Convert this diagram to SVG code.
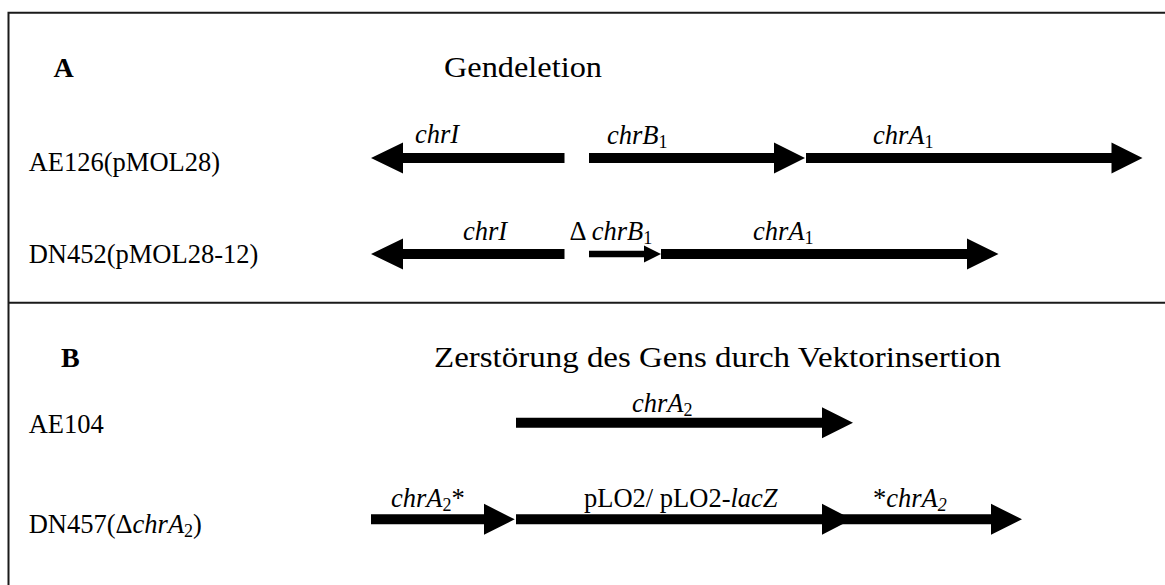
<svg xmlns="http://www.w3.org/2000/svg" width="1165" height="585" viewBox="0 0 1165 585">
<style>
.t{font-family:"Liberation Serif","Times New Roman",serif;font-size:26.5px;fill:#000}
.i{font-style:italic}
.b{font-weight:bold;font-size:28px}
.h{font-size:30px}
.s{font-size:18px}
.ar{fill:#000;stroke:none}
.fr{stroke:#1a1a1a;stroke-width:2;fill:none}
</style>
<rect width="1165" height="585" fill="#fff"/>
<g id="frame">
<path class="fr" d="M8.5 585 V12.7 H1165 M8.5 302.7 H1165"/>
</g>
<g id="panelA">
<text class="t b" x="53.6" y="77">A</text>
<text class="t h" x="444" y="77" textLength="158" lengthAdjust="spacingAndGlyphs">Gendeletion</text>
<text class="t" x="28.7" y="170.7">AE126(pMOL28)</text>
<text class="t" x="28.7" y="263.3">DN452(pMOL28-12)</text>
</g>
<g id="panelB">
<text class="t b" x="61" y="367.3">B</text>
<text class="t h" x="434" y="367.3" textLength="567" lengthAdjust="spacingAndGlyphs">Zerstörung des Gens durch Vektorinsertion</text>
<text class="t" x="28.7" y="432.7">AE104</text>
<text class="t" x="28.7" y="533.3">DN457(Δ<tspan class="i">chrA</tspan><tspan class="s" dy="4">2</tspan><tspan dy="-4">)</tspan></text>
</g>
<g id="connectors">
<path id="a-chrI-1" class="ar" d="M564.5 153 H403 V142.5 L371 158 L403 173.5 V163 H564.5 Z"/>
<path id="a-chrB1-1" class="ar" d="M589 153 H774 V142.5 L805 158 L774 173.5 V163 H589 Z"/>
<path id="a-chrA1-1" class="ar" d="M806 153 H1111.5 V142.5 L1142.5 158 L1111.5 173.5 V163 H806 Z"/>
<path id="a-chrI-2" class="ar" d="M564.5 249 H403 V238.5 L371 254 L403 269.5 V259 H564.5 Z"/>
<path id="a-dchrB1-2" class="ar" d="M589 250.7 H644 V245.5 L661 254 L644 262.5 V257.3 H589 Z"/>
<path id="a-chrA1-2" class="ar" d="M661 249 H967 V238.5 L998.5 254 L967 269.5 V259 H661 Z"/>
<path id="a-chrA2-B1" class="ar" d="M516 417.7 H822 V407.2 L853 422.7 L822 438.2 V427.7 H516 Z"/>
<path id="a-chrA2s-B2" class="ar" d="M371 514.3 H484 V503.8 L514.7 519.3 L484 534.8 V524.3 H371 Z"/>
<path id="a-pLO2-B2" class="ar" d="M516 514.3 H822 V503.8 L852 519.3 L822 534.8 V524.3 H516 Z"/>
<path id="a-schrA2-B2" class="ar" d="M840 514.3 H991 V503.8 L1022 519.3 L991 534.8 V524.3 H840 Z"/>
</g>
<g id="labels">
<text class="t i" x="415" y="143.3">chrI</text>
<text class="t" x="607" y="144"><tspan class="i">chrB</tspan><tspan class="s" dy="4">1</tspan></text>
<text class="t" x="873" y="144"><tspan class="i">chrA</tspan><tspan class="s" dy="4">1</tspan></text>
<text class="t i" x="463" y="240">chrI</text>
<text class="t" x="569.5" y="240">Δ <tspan class="i">chrB</tspan><tspan class="s" dy="4">1</tspan></text>
<text class="t" x="753" y="240"><tspan class="i">chrA</tspan><tspan class="s" dy="4">1</tspan></text>
<text class="t" x="632" y="411.7"><tspan class="i">chrA</tspan><tspan class="s" dy="4">2</tspan></text>
<text class="t" x="391" y="506.7"><tspan class="i">chrA</tspan><tspan class="s" dy="4">2</tspan><tspan dy="-4">*</tspan></text>
<text class="t" x="584" y="506.7">pLO2/ pLO2-<tspan class="i">lacZ</tspan></text>
<text class="t" x="873" y="506.7">*<tspan class="i">chrA</tspan><tspan class="s i" dy="4">2</tspan></text>
</g>
</svg>
